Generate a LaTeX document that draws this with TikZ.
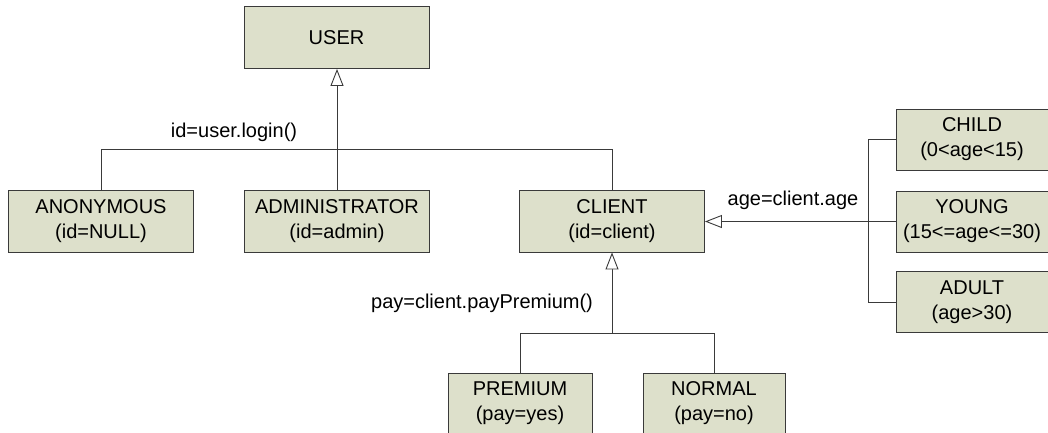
\documentclass[tikz,border=0pt]{standalone}
\usepackage{fontspec}
\setmainfont{Liberation Sans}
\usetikzlibrary{arrows.meta}
\definecolor{boxfill}{HTML}{DDE0CB}
\definecolor{linecol}{HTML}{3A3A3A}
\tikzset{
  umlbox/.style={draw=linecol, fill=boxfill, line width=0.9pt, minimum width=185pt, minimum height=62pt, inner sep=0pt, align=center, font=\fontsize{20}{25}\selectfont},
  conn/.style={draw=linecol, line width=0.9pt},
  gen/.style={conn, -{Triangle[open, length=17pt, width=13pt, fill=white]}},
  lbl/.style={inner sep=0pt, font=\fontsize{20}{25}\selectfont}
}
\begin{document}
\begin{tikzpicture}[x=1pt, y=-1pt]
\useasboundingbox (0,0) rectangle (1048,432);
\clip (0,0) rectangle (1048,432);
\fill[white] (0,0) rectangle (1048,432);
% boxes
\node[umlbox] (user) at (336.5,37.5) {USER};
\node[umlbox] (anon) at (101,221) {ANONYMOUS\\(id=NULL)};
\node[umlbox] (admin) at (337,221) {ADMINISTRATOR\\(id=admin)};
\node[umlbox] (client) at (612,221) {CLIENT\\(id=client)};
\node[umlbox, minimum width=152pt, minimum height=61pt] (child) at (972,139.5) {CHILD\\(0<age<15)};
\node[umlbox, minimum width=152pt, minimum height=61pt] (young) at (972,221.5) {YOUNG\\(15<=age<=30)};
\node[umlbox, minimum width=152pt, minimum height=61pt] (adult) at (972,302) {ADULT\\(age>30)};
\node[umlbox, minimum width=144pt, minimum height=61pt] (premium) at (520,403.5) {PREMIUM\\(pay=yes)};
\node[umlbox, minimum width=142pt, minimum height=61pt] (normal) at (714,403.5) {NORMAL\\(pay=no)};
% user hierarchy
\draw[gen] (admin.north) -- (admin.north |- user.south);
\draw[conn] (anon.north) -- ++(0,-40) -| (client.north);
\node[lbl] (lbluser) at (234,132) {id=user.login()};
% age hierarchy
\draw[gen] (young.west) -- (client.east |- young.west);
\coordinate (agebus) at (868,0);
\draw[conn] (child.west) -- (agebus |- child.west) -- (agebus |- adult.west) -- (adult.west);
\node[lbl] (lblage) at (793,200) {age=client.age};
% pay hierarchy
\coordinate (paybus) at (612,333);
\draw[gen] (paybus) -- (client.south);
\draw[conn] (premium.north) -- (premium.north |- paybus) -- (normal.north |- paybus) -- (normal.north);
\node[lbl] (lblpay) at (482,303) {pay=client.payPremium()};
\end{tikzpicture}
\end{document}
